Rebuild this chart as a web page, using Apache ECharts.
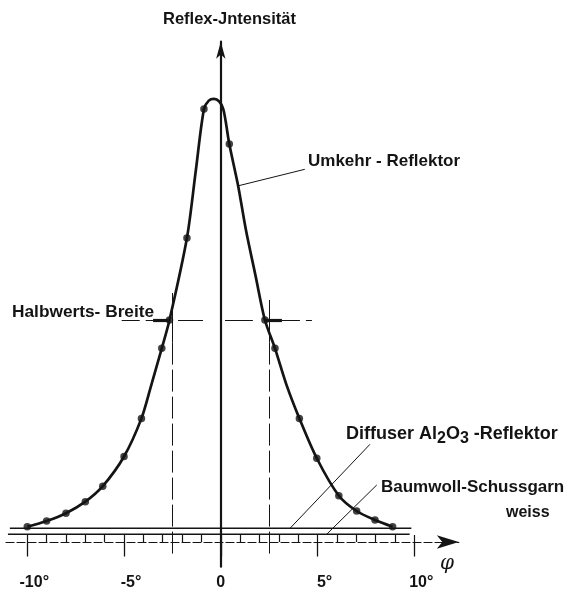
<!DOCTYPE html>
<html><head><meta charset="utf-8">
<script src="https://cdn.jsdelivr.net/npm/echarts@6/dist/echarts.min.js"></script>
<style>html,body{margin:0;padding:0;background:#fff}#c{width:570px;height:592px}</style>
</head><body><div id="c"></div>
<script>
// ---- data ----
// measured points (angle phi in degrees, relative reflex intensity, peak = 100)
const pointPhi = [-10, -9, -8, -7, -6.1, -5, -4.1, -3.05, -2.65, -1.75, -0.87, 0.44, 2.28, 2.8, 4.06, 4.96, 6.1, 7.02, 7.97, 8.88];
const pointI   = [3.45, 4.74, 6.5, 9.1, 12.6, 19.3, 27.9, 43.7, 50.1, 68.6, 97.7, 89.8, 50.1, 43.7, 27.9, 18.9, 10.45, 7.0, 4.97, 3.45];
// drawn curve "Umkehr-Reflektor"
const curvePhi = [-10, -9, -8, -7, -6.1, -5, -4.1, -3.6, -3.05, -2.65, -1.75, -1.3, -0.87, -0.62, -0.35, -0.08, 0.12, 0.25, 0.44, 0.9, 1.3, 1.8, 2.28, 2.8, 3.4, 4.06, 4.96, 6.1, 7.02, 7.97, 8.88];
const curveI   = [3.45, 4.74, 6.5, 9.1, 12.6, 19.3, 27.9, 35.3, 43.7, 50.1, 68.6, 83.5, 97.7, 99.6, 100, 99.4, 97.8, 95.0, 89.8, 80.3, 70.4, 60.0, 50.1, 43.7, 35.4, 27.9, 18.9, 10.45, 7.0, 4.97, 3.45];
// diffuse reflectors (flat levels)
const diffuserPhi = [-10.9, 9.85];
const diffuserI   = [3.1, 3.1];
const baumwollPhi = [-11.0, 9.76];
const baumwollI   = [1.74, 1.74];
// half width
const halfMax = 50.1;
const halfPhiLeft = -2.49, halfPhiRight = 2.48;
// axis ticks & labels
const xMinorTicks = [-10,-9,-8,-7,-6,-5,-4,-3,-2,-1,0,1,2,3,4,5,6,7,8,9,10];
const xMajorTicks = [-10, -5, 0, 5, 10];
const xTickLabels = {'-10':'-10°', '-5':'-5°', '0':'0', '5':'5°', '10':'10°'};

const ink = '#141414';
const chart = echarts.init(document.getElementById('c'), null, {renderer: 'canvas'});
const zip = (a, b) => a.map((v, i) => [v, b[i]]);
const seg = (x1, y1, x2, y2, style) => [{coord: [x1, y1], lineStyle: style}, {coord: [x2, y2]}];
const thin = {color: ink, width: 1, type: 'solid'};
const dash = {color: ink, width: 1, type: [18, 6]};
const vdash = {color: ink, width: 1, type: [22, 5]};
const thick = {color: ink, width: 3.2, type: 'solid'};
const font = '"Liberation Sans", Arial, sans-serif';

const option = {
  backgroundColor: '#ffffff',
  animation: false,
  grid: {left: 6, right: 111.2, top: 41.7, bottom: 25.3, containLabel: false,
         outerBounds: {left: -200, top: -200, right: -200, bottom: -200}},
  xAxis: [{
    type: 'value', min: -11.1, max: 12.3,
    splitLine: {show: false},
    axisLine: {onZero: true, onZeroAxisIndex: 0, symbol: ['none', 'arrow'], symbolSize: [10, 22],
               lineStyle: {color: ink, width: 1.2, type: [8, 3]}},
    axisTick: {customValues: xMajorTicks, length: 14.5, lineStyle: {color: ink, width: 1.3}},
    axisLabel: {show: true, customValues: xMajorTicks, margin: 8, color: ink,
      fontFamily: font, fontSize: 16, fontWeight: 'bold',
      formatter: v => { const t = xTickLabels[String(v)]; return t === '0' ? '{z|0}' : '{d|' + t + '}'; },
      rich: {d: {fontFamily: font, fontSize: 16, fontWeight: 'bold', color: ink, padding: [0, 0, 0, 14]},
             z: {fontFamily: font, fontSize: 16, fontWeight: 'bold', color: ink}}}
  }, {
    type: 'value', min: -11.1, max: 12.3,
    splitLine: {show: false},
    axisLine: {show: false, onZero: true, onZeroAxisIndex: 0},
    axisTick: {customValues: xMinorTicks, length: 7, lineStyle: {color: ink, width: 1.2}},
    axisLabel: {show: false}
  }],
  yAxis: {
    type: 'value', min: -5.57, max: 112.9,
    splitLine: {show: false}, axisTick: {show: false}, axisLabel: {show: false},
    axisLine: {onZero: true, onZeroAxisIndex: 0, symbol: ['none', 'arrow'], symbolSize: [7, 17],
               lineStyle: {color: ink, width: 2.2}}
  },
  series: [
    {type: 'line', name: 'Diffuser Al2O3-Reflektor', data: zip(diffuserPhi, diffuserI), showSymbol: false,
     lineStyle: {color: ink, width: 1.4}, z: 2},
    {type: 'line', name: 'Baumwoll-Schussgarn weiss', data: zip(baumwollPhi, baumwollI), showSymbol: false,
     lineStyle: {color: ink, width: 1.4}, z: 2},
    {type: 'line', name: 'Umkehr-Reflektor', data: zip(curvePhi, curveI), showSymbol: false, smooth: 0.3,
     lineStyle: {color: ink, width: 2.7}, z: 3,
     markLine: {silent: true, symbol: 'none', label: {show: false}, animation: false,
       data: [
         seg(-5.12, halfMax, -3.5, halfMax, dash),
         seg(-3.5, halfMax, -2.66, halfMax, thick),
         seg(-2.21, halfMax, -0.92, halfMax, thin),
         seg(0.22, halfMax, 1.66, halfMax, thin),
         seg(2.28, halfMax, 3.16, halfMax, thick),
         seg(3.16, halfMax, 4.71, halfMax, dash),
         seg(halfPhiLeft, 56.2, halfPhiLeft, 45, thin),
         seg(halfPhiLeft, 45, halfPhiLeft, -3.6, vdash),
         seg(halfPhiRight, 54.6, halfPhiRight, 45, thin),
         seg(halfPhiRight, 45, halfPhiRight, -3.6, vdash),
         seg(0.92, 80.4, 4.34, 84.1, thin),
         seg(7.71, 22.05, 3.58, 3.1, thin),
         seg(8.06, 12.87, 5.47, 1.74, thin)
       ]}},
    {type: 'scatter', name: 'Messpunkte', data: zip(pointPhi, pointI), symbolSize: 7.5,
     itemStyle: {color: ink}, z: 4}
  ],
  graphic: [
    {type: 'text', left: 163, top: 11, style: {text: 'Reflex-Jntensität', font: 'bold 16.5px ' + font, fill: ink}},
    {type: 'text', left: 308, top: 153, style: {text: 'Umkehr - Reflektor', font: 'bold 17px ' + font, fill: ink}},
    {type: 'text', left: 12, top: 303.5, style: {text: 'Halbwerts- Breite', font: 'bold 17.3px ' + font, fill: ink}},
    {type: 'text', left: 346, top: 425, style: {
      rich: {n: {font: 'bold 18px ' + font, fill: ink}, s: {font: 'bold 16px ' + font, fill: ink, padding: [10, 0, 0, 0]}},
      text: '{n|Diffuser Al}{s|2}{n|O}{s|3}{n| -Reflektor}'}},
    {type: 'text', left: 381, top: 479, style: {text: 'Baumwoll-Schussgarn', font: 'bold 17px ' + font, fill: ink}},
    {type: 'text', left: 506, top: 505, style: {text: 'weiss', font: 'bold 16px ' + font, fill: ink}},
    {type: 'text', left: 440, top: 554, style: {text: 'φ', font: 'italic 20px "DejaVu Serif", serif', fill: ink}}
  ]
};
chart.setOption(option);
</script></body></html>
